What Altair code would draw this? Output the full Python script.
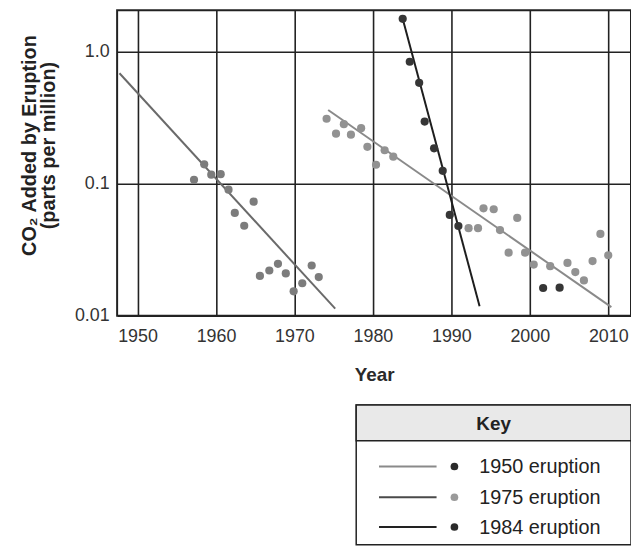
import altair as alt
import pandas as pd

# ---- data ----
years_1950 = [1957.2, 1958.5, 1959.4, 1960.6, 1961.6, 1962.4, 1963.6, 1964.8,
              1965.6, 1966.8, 1967.9, 1968.9, 1969.9, 1971.0, 1972.2, 1973.1]
vals_1950 = [0.107, 0.140, 0.117, 0.118, 0.090, 0.060, 0.048, 0.073,
             0.020, 0.022, 0.0247, 0.0209, 0.0153, 0.0176, 0.024, 0.0196]

years_1975 = [1974.1, 1975.3, 1976.3, 1977.2, 1978.5, 1979.3, 1980.4, 1981.5, 1982.6,
              1992.2, 1993.4, 1994.1, 1995.4, 1996.2, 1997.3, 1998.4, 1999.4, 2000.5,
              2002.6, 2004.8, 2005.8, 2006.9, 2008.0, 2009.0, 2010.0]
vals_1975 = [0.31, 0.239, 0.282, 0.235, 0.263, 0.19, 0.139, 0.179, 0.16,
             0.046, 0.046, 0.065, 0.064, 0.0445, 0.030, 0.055, 0.030, 0.0244,
             0.0237, 0.0251, 0.0214, 0.0185, 0.0259, 0.0416, 0.0287]

years_1984 = [1983.8, 1984.7, 1985.9, 1986.6, 1987.8, 1988.9, 1989.8, 1990.9, 2001.7, 2003.8]
vals_1984 = [1.77, 0.838, 0.58, 0.295, 0.185, 0.125, 0.058, 0.0478, 0.0162, 0.0163]

line_years = {"1950": [1947.7, 1975.2], "1975": [1974.3, 2010.4], "1984": [1983.8, 1993.6]}
line_vals = {"1950": [0.685, 0.0113], "1975": [0.361, 0.0116], "1984": [1.77, 0.0118]}

series_names = ["1950", "1975", "1984"]
point_colors = ["#7c7c7c", "#929292", "#363636"]
line_colors = ["#6a6a6a", "#8a8a8a", "#1e1e1e"]

x_ticks = [1950, 1960, 1970, 1980, 1990, 2000, 2010]
y_ticks = [0.01, 0.1, 1.0]
y_tick_labels = ["0.01", "0.1", "1.0"]

y_title = ["CO\u2082 Added by Eruption", "(parts per million)"]
x_title = "Year"

legend_title = "Key"
legend_labels = ["1950 eruption", "1975 eruption", "1984 eruption"]
legend_line_colors = ["#8a8a8a", "#4a4a4a", "#222222"]
legend_dot_colors = ["#2a2a2a", "#9a9a9a", "#2a2a2a"]

# ---- tables ----
pts = pd.DataFrame(
    [{"series": "1950", "year": y, "value": v} for y, v in zip(years_1950, vals_1950)]
    + [{"series": "1975", "year": y, "value": v} for y, v in zip(years_1975, vals_1975)]
    + [{"series": "1984", "year": y, "value": v} for y, v in zip(years_1984, vals_1984)]
)
lines = pd.DataFrame(
    [{"series": s, "year": y, "value": v}
     for s in series_names for y, v in zip(line_years[s], line_vals[s])]
)

FONT = "Liberation Sans"
label_expr = " : ".join(
    f"datum.value >= {v * 0.99} ? '{l}'" for v, l in sorted(zip(y_ticks, y_tick_labels), reverse=True)
) + " : ''"

x_enc = alt.X("year:Q",
              scale=alt.Scale(domain=[1947.4, 2012.9], nice=False, zero=False),
              axis=alt.Axis(values=x_ticks, format="d", grid=True, gridColor="#222222",
                            gridWidth=1.6, gridOpacity=1, ticks=False, domain=False,
                            labelFont=FONT, labelFontSize=18, labelColor="#333333",
                            labelPadding=12, title=x_title, titleFont=FONT,
                            titleFontSize=19, titleFontWeight="bold", titleColor="#2a2a2a",
                            titleY=65, titleBaseline="alphabetic"))
y_enc = alt.Y("value:Q",
              scale=alt.Scale(type="log", domain=[0.01, 2.06], nice=False),
              axis=alt.Axis(values=y_ticks, labelExpr=label_expr, grid=True,
                            gridColor="#222222", gridWidth=1.6, gridOpacity=1,
                            ticks=False, domain=False, labelFont=FONT, labelFontSize=18,
                            labelColor="#333333", labelPadding=8, title=y_title,
                            titleFont=FONT, titleFontSize=20, titleFontWeight="bold",
                            titleColor="#222222", titleX=-88, titleY=136,
                            titleAlign="center", titleBaseline="middle",
                            titleLineHeight=19))

line_layer = alt.Chart(lines).mark_line(strokeWidth=2).encode(
    x=x_enc, y=y_enc, detail="series:N",
    stroke=alt.Stroke("series:N", scale=alt.Scale(domain=series_names, range=line_colors),
                      legend=None))
point_layer = alt.Chart(pts).mark_circle(size=68, opacity=1).encode(
    x="year:Q", y="value:Q",
    fill=alt.Fill("series:N", scale=alt.Scale(domain=series_names, range=point_colors),
                  legend=None))

one = pd.DataFrame({"k": [0]})
# key box (pixel positions relative to plot origin)
BX0, BX1, BY0, BY1, HY = 241, 518, 398, 539, 434
legend_layers = [
    alt.Chart(one).mark_rect(fill="white", stroke="#222222", strokeWidth=1.5).encode(
        x=alt.value(BX0), x2=alt.value(BX1), y=alt.value(BY0), y2=alt.value(BY1)),
    alt.Chart(one).mark_rect(fill="#e9e9e9", stroke="#222222", strokeWidth=1.5).encode(
        x=alt.value(BX0), x2=alt.value(BX1), y=alt.value(BY0), y2=alt.value(HY)),
    alt.Chart(pd.DataFrame({"t": [legend_title]})).mark_text(
        font=FONT, fontSize=19, fontWeight="bold", color="#222222",
        align="center", baseline="middle").encode(
        x=alt.value((BX0 + BX1) / 2), y=alt.value((BY0 + HY) / 2 + 1), text="t:N"),
]
row_y = [460, 491, 521]
for lab, lc, dc, ry in zip(legend_labels, legend_line_colors, legend_dot_colors, row_y):
    d = pd.DataFrame({"label": [lab]})
    legend_layers += [
        alt.Chart(d).mark_rule(color=lc, strokeWidth=2).encode(
            x=alt.value(264), x2=alt.value(322), y=alt.value(ry)),
        alt.Chart(d).mark_circle(color=dc, size=60, opacity=1).encode(
            x=alt.value(340), y=alt.value(ry)),
        alt.Chart(d).mark_text(font=FONT, fontSize=20, color="#222222",
                               align="left", baseline="middle").encode(
            x=alt.value(365), y=alt.value(ry + 1), text="label:N"),
    ]

chart = alt.layer(line_layer, point_layer, *legend_layers).properties(
    width=518, height=308,
    autosize=alt.AutoSizeParams(type="none"),
    padding={"left": 110, "top": 0, "right": 0, "bottom": 232},
).configure_view(stroke="#222222", strokeWidth=2)

chart.save("out.html", embed_options={"renderer": "svg", "actions": False})
